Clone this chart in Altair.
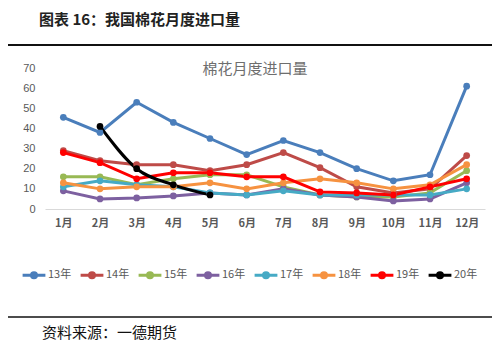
import altair as alt
import pandas as pd

months = ["1月", "2月", "3月", "4月", "5月", "6月", "7月", "8月", "9月", "10月", "11月", "12月"]
years = ["13年", "14年", "15年", "16年", "17年", "18年", "19年", "20年"]
colors = ["#4A7EBB", "#BE4B48", "#98B954", "#7D60A0", "#46AAC5", "#F69240", "#FF0000", "#000000"]

y13 = [45.5, 38, 53, 43, 35, 27, 34, 28, 20, 14, 17, 61]
y14 = [29, 24, 22, 22, 19, 22, 28, 20.5, 11, 8, 10, 26.5]
y15 = [16, 16, 12, 15, 17, 17, 11, 7, 6, 6, 8, 19]
y16 = [9, 5, 5.5, 6.5, 8, 7, 10, 7, 6, 4, 5, 13]
y17 = [11, 14, 12, 11, 8, 7, 9, 7, 7, 7, 7, 10]
y18 = [13, 10, 11, 11, 13, 10, 13, 15, 13, 10, 12, 22]
y19 = [28, 23, 15, 18, 18, 16, 16, 8.5, 8, 7, 11, 15]
y20 = [None, 41, 20, 12, 7, None, None, None, None, None, None, None]

series = [y13, y14, y15, y16, y17, y18, y19, y20]
rows = []
for yr, vals in zip(years, series):
    for m, v in zip(months, vals):
        if v is not None:
            rows.append({"month": m, "year": yr, "value": v})
df = pd.DataFrame(rows)

heading = "图表 16：我国棉花月度进口量"
chart_title = "棉花月度进口量"
source = "资料来源：一德期货"

FONT = "Noto Sans CJK SC"

xenc = alt.X("month:N", sort=months, scale=alt.Scale(domain=months),
             axis=alt.Axis(title=None, labelAngle=0, ticks=False, domainColor="#D9D9D9",
                           labelColor="#595959", labelFontSize=11, labelFont=FONT,
                           labelPadding=8, labelFontWeight="bold"))
yenc = alt.Y("value:Q", scale=alt.Scale(domain=[0, 70], nice=False),
             axis=alt.Axis(title=None, values=[0, 10, 20, 30, 40, 50, 60, 70], domain=False,
                           ticks=False, grid=False, labelColor="#595959", labelFontSize=11,
                           labelPadding=10, labelFont="Liberation Sans"))
legend = alt.Legend(title=None, orient="none", legendX=-24, legendY=194, direction="horizontal",
                    symbolType="M-1,0L1,0M-0.22,0a0.22,0.22 0 1,0 0.44,0a0.22,0.22 0 1,0 -0.44,0",
                    symbolSize=520, symbolStrokeWidth=3, labelColor="#595959", labelFontSize=11,
                    labelFont=FONT, labelOffset=1, columnPadding=2)
cenc = alt.Color("year:N", scale=alt.Scale(domain=years, range=colors), legend=legend)

base = alt.Chart(df).encode(x=xenc, y=yenc, color=cenc, order=alt.Order("year:N"))

lines = base.transform_filter(alt.datum.year != "20年").mark_line(strokeWidth=3)
line20 = base.transform_filter(alt.datum.year == "20年").mark_line(strokeWidth=3, interpolate="monotone")
points = base.mark_point(filled=True, size=45, opacity=1)

deco = pd.DataFrame({"k": [0]})
dchart = alt.Chart(deco)
head_t = dchart.mark_text(align="left", baseline="middle", font=FONT, fontSize=15,
                          fontWeight="bold", color="#222222").encode(
    x=alt.value(-6), y=alt.value(-48), text=alt.value(heading))
top_rule = dchart.mark_rule(color="#111111", strokeWidth=2).encode(
    x=alt.value(-37), x2=alt.value(447), y=alt.value(-23))
title_t = dchart.mark_text(align="center", baseline="middle", font=FONT, fontSize=15,
                           color="#6E6E6E").encode(
    x=alt.value(210), y=alt.value(1), text=alt.value(chart_title))
bot_rule = dchart.mark_rule(color="#111111", strokeWidth=1.5).encode(
    x=alt.value(-37), x2=alt.value(447), y=alt.value(249))
src_t = dchart.mark_text(align="left", baseline="middle", font=FONT, fontSize=15,
                         color="#111111").encode(
    x=alt.value(-3), y=alt.value(265), text=alt.value(source))

chart = alt.layer(lines, line20, points, head_t, top_rule, title_t, bot_rule, src_t).properties(
    width=440, height=141,
    autosize=alt.AutoSizeParams(type="none"),
    padding={"left": 37, "top": 60, "right": 7, "bottom": 141},
    background="white",
).configure_view(stroke=None)

chart.save("out.html", embed_options={"renderer": "svg", "actions": False})
